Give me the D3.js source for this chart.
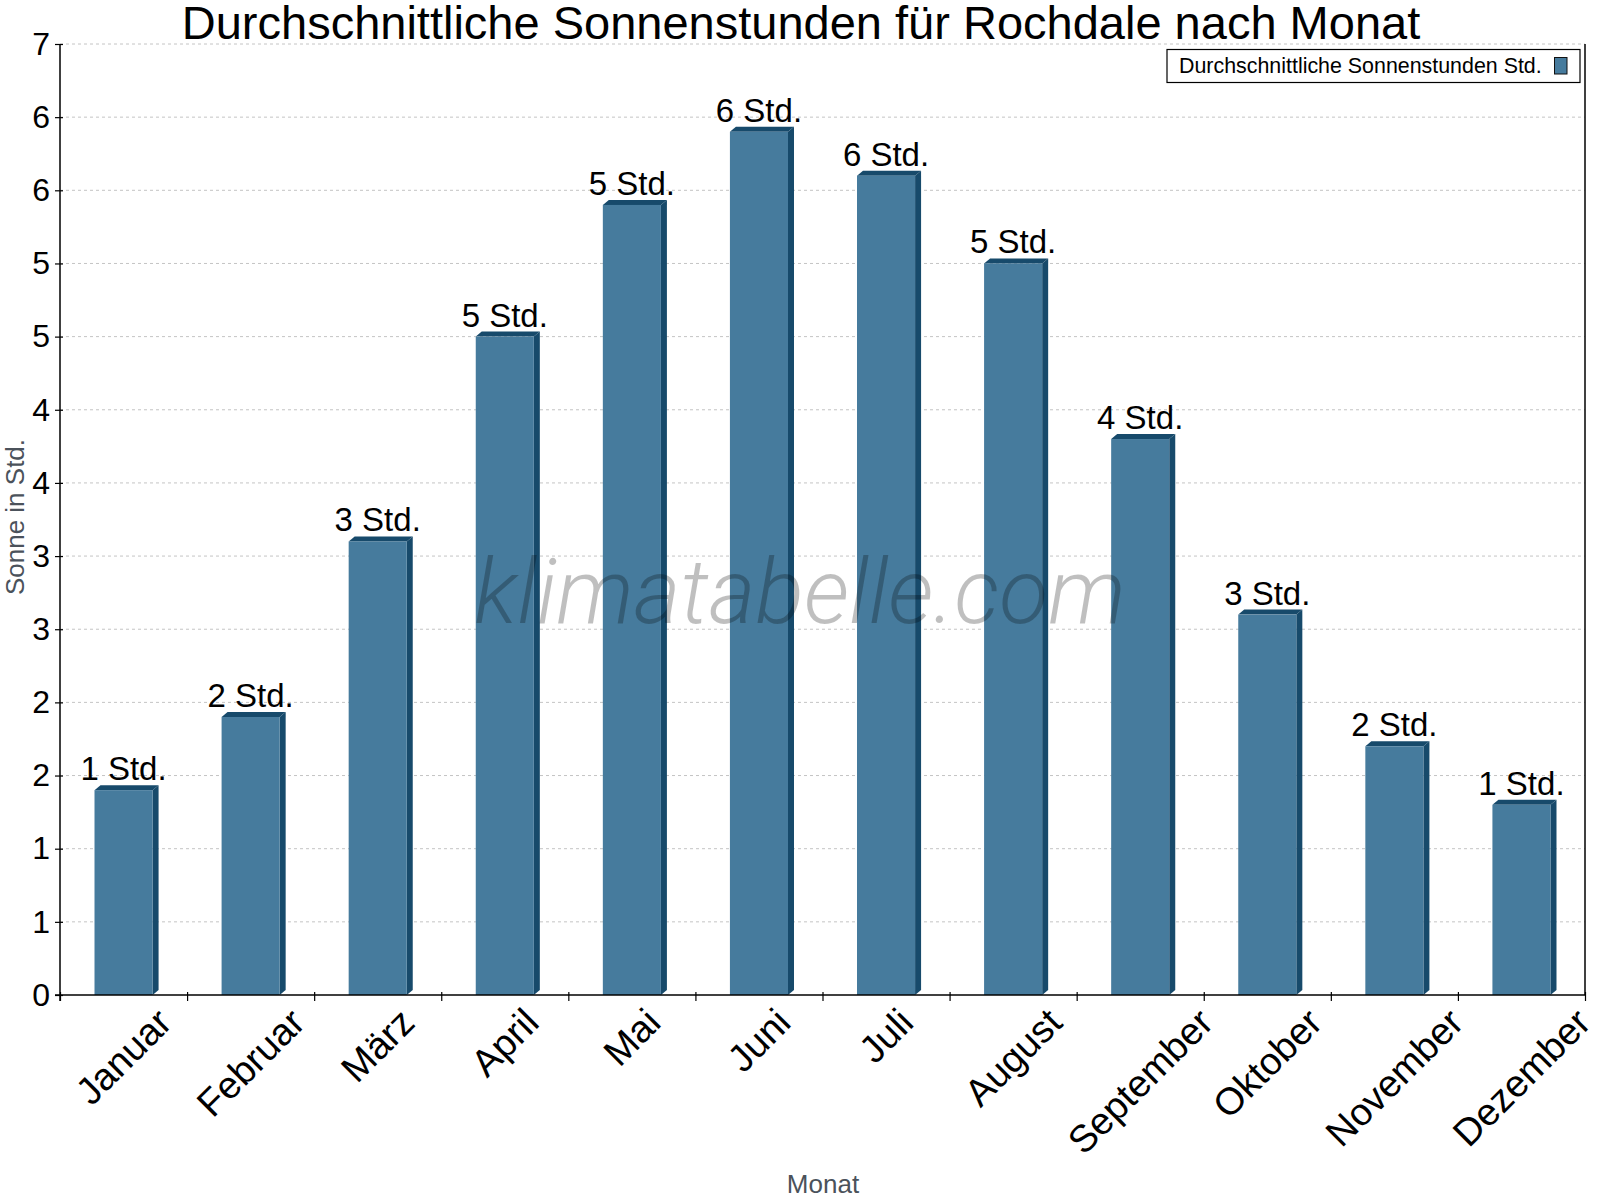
<!DOCTYPE html>
<html>
<head>
<meta charset="utf-8">
<script src="https://cdn.jsdelivr.net/npm/d3@7"></script>
<style>
  html, body { margin: 0; padding: 0; background: #fff; }
  svg { display: block; font-family: "Liberation Sans", Arial, sans-serif; }
</style>
</head>
<body>
<svg id="chart" width="1600" height="1200"></svg>
<script>
// ---- data ----
const months = ["Januar","Februar","März","April","Mai","Juni","Juli","August","September","Oktober","November","Dezember"];
const sunHours = [1.4, 1.9, 3.1, 4.5, 5.4, 5.9, 5.6, 5.0, 3.8, 2.6, 1.7, 1.3];
const yTickValues = [0, 0.5, 1, 1.5, 2, 2.5, 3, 3.5, 4, 4.5, 5, 5.5, 6, 6.5];
const yTickLabels = ["0","1","1","2","2","3","3","4","4","5","5","6","6","7"];
const titleText = "Durchschnittliche Sonnenstunden für Rochdale nach Monat";
const legendText = "Durchschnittliche Sonnenstunden Std.";
const unitSuffix = " Std.";

(function () {
// ---- layout ----
const plotLeft = 60, plotRight = 1585, plotTop = 44, plotBottom = 995;
const frontColor = "#467B9D", darkColor = "#174A6B";
const depthX = 6, depthY = 5;

const svg = d3.select("#chart");

const x = d3.scaleBand().domain(months).range([plotLeft, plotRight]).padding(0);
const y = d3.scaleLinear().domain([0, 6.5]).range([plotBottom, plotTop]);
const barW = x.bandwidth() * 0.457;

// gridlines
svg.append("g").selectAll("line")
  .data(yTickValues.slice(1))
  .join("line")
  .attr("x1", plotLeft).attr("x2", plotRight)
  .attr("y1", d => y(d)).attr("y2", d => y(d))
  .attr("stroke", "#c4c4c4").attr("stroke-width", 1)
  .attr("stroke-dasharray", "3,3");

// right border
svg.append("line")
  .attr("x1", plotRight).attr("x2", plotRight).attr("y1", plotTop).attr("y2", plotBottom)
  .attr("stroke", "#000").attr("stroke-width", 1.5);

// bars
const bars = svg.append("g");
months.forEach((m, i) => {
  const v = sunHours[i];
  const cx = x(m) + x.bandwidth() / 2;
  const x0 = cx - barW / 2, x1 = cx + barW / 2;
  const yt = y(v), yb = y(0);
  bars.append("path")
    .attr("d", `M${x1},${yt} L${x1 + depthX},${yt - depthY} L${x1 + depthX},${yb - depthY} L${x1},${yb} Z`)
    .attr("fill", darkColor);
  bars.append("path")
    .attr("d", `M${x0},${yt} L${x0 + depthX},${yt - depthY} L${x1 + depthX},${yt - depthY} L${x1},${yt} Z`)
    .attr("fill", darkColor);
  bars.append("rect")
    .attr("x", x0).attr("y", yt).attr("width", barW).attr("height", yb - yt)
    .attr("fill", frontColor);
  bars.append("text")
    .attr("x", cx).attr("y", yt - depthY - 5)
    .attr("text-anchor", "middle")
    .attr("font-size", 33).attr("fill", "#000")
    .text(Math.round(v) + unitSuffix);
});

// y axis
const yAxis = d3.axisLeft(y).tickValues(yTickValues)
  .tickFormat((d, i) => yTickLabels[i]).tickSizeInner(5).tickSizeOuter(0).tickPadding(5);
const gy = svg.append("g").attr("transform", `translate(${plotLeft},0)`).call(yAxis);
gy.select(".domain").attr("stroke", "#000").attr("stroke-width", 1.5).attr("d", `M0,${plotTop}V${plotBottom + 6}`);
gy.selectAll(".tick line").attr("x1", 3).attr("stroke", "#000").attr("stroke-width", 1.2);
gy.selectAll(".tick text").attr("font-size", 32).attr("fill", "#000")
  .attr("font-family", '"Liberation Sans", Arial, sans-serif');

// x axis (boundary ticks)
const xb = d3.scaleLinear().domain([0, months.length]).range([plotLeft, plotRight]);
const xAxis = d3.axisBottom(xb).tickValues(d3.range(months.length + 1))
  .tickFormat("").tickSizeInner(6).tickSizeOuter(0);
const gx = svg.append("g").attr("transform", `translate(0,${plotBottom})`).call(xAxis);
gx.select(".domain").attr("stroke", "#000").attr("stroke-width", 1.5).attr("d", `M${plotLeft - 5},0H${plotRight}`);
gx.selectAll(".tick line").attr("y1", -3).attr("stroke", "#000").attr("stroke-width", 1.2);

// x labels rotated
const labelFs = 38;
const labelTop = 1006;
svg.append("g").selectAll("text")
  .data(months)
  .join("text")
  .attr("font-size", labelFs)
  .attr("text-anchor", "middle")
  .attr("dominant-baseline", "central")
  .attr("fill", "#000")
  .text(d => d)
  .each(function (d) {
    const w = this.getComputedTextLength();
    const hh = 0.72 * labelFs;
    const cx = x(d) + x.bandwidth() / 2;
    const cy = labelTop + 0.7071 * (w + hh) / 2;
    d3.select(this).attr("transform", `translate(${cx},${cy}) rotate(-45)`);
  });

// axis titles
svg.append("text")
  .attr("x", 823).attr("y", 1193)
  .attr("text-anchor", "middle")
  .attr("font-size", 26).attr("fill", "#4b525b")
  .text("Monat");
svg.append("text")
  .attr("transform", `translate(24,517) rotate(-90)`)
  .attr("text-anchor", "middle")
  .attr("font-size", 26).attr("fill", "#4b525b")
  .text("Sonne in Std.");

// title
svg.append("text")
  .attr("x", 801).attr("y", 39)
  .attr("text-anchor", "middle")
  .attr("font-size", 47).attr("fill", "#000")
  .text(titleText);

// legend
const lg = svg.append("g");
lg.append("rect")
  .attr("x", 1167).attr("y", 49.5).attr("width", 413).attr("height", 33)
  .attr("fill", "#fff").attr("stroke", "#000").attr("stroke-width", 1.2);
lg.append("text")
  .attr("x", 1179).attr("y", 73)
  .attr("font-size", 21.4).attr("fill", "#000")
  .text(legendText);
lg.append("rect")
  .attr("x", 1554.5).attr("y", 57.5).attr("width", 12.5).attr("height", 16.5)
  .attr("fill", frontColor).attr("stroke", "#111").attr("stroke-width", 1);

// watermark
svg.append("text")
  .attr("x", 800).attr("y", 623)
  .attr("text-anchor", "middle")
  .attr("font-family", "Roboto, 'Open Sans', sans-serif")
  .attr("font-style", "italic").attr("font-weight", 300)
  .attr("font-size", 90)
  .attr("fill", "rgba(0,0,0,0.25)")
  .text("klimatabelle.com");
})();
</script>
</body>
</html>
